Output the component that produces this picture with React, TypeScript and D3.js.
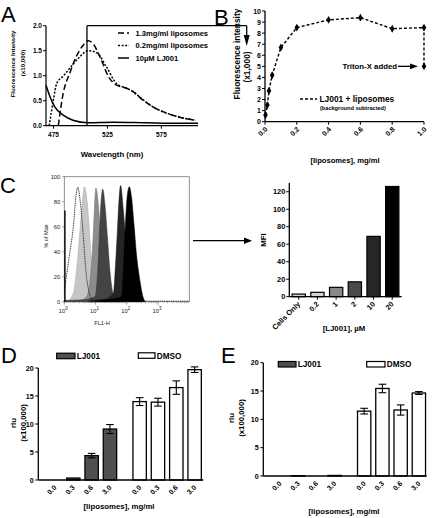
import React from 'react';
import * as d3 from 'd3';

// ---------- Panel A data (wavelength nm, fluorescence x10,000) ----------
const aWaveTicks = [475, 525, 575];
const aYTicks = [0, 0.5, 1.0, 1.5, 2.0];
const lipo13: [number, number][] = [
  [479.4, 0], [484, 0.65], [490, 1.05], [496, 1.38], [502.5, 1.61], [507, 1.7], [512, 1.63],
  [518, 1.38], [526, 0.98], [533.5, 0.81], [542.7, 0.75], [548.8, 0.68], [558, 0.51],
  [567, 0.38], [580, 0.25], [592, 0.17], [607, 0.11],
];
const lipo02: [number, number][] = [
  [471, 0], [474.8, 0.51], [478, 0.85], [484, 0.99], [490, 1.15], [499.5, 1.38], [507, 1.5],
  [515, 1.46], [524, 1.18], [533.5, 0.84], [542.7, 0.75], [548.8, 0.68], [558, 0.52],
  [567, 0.38], [580, 0.25], [592, 0.17], [607, 0.11],
];
const lj001Only: [number, number][] = [
  [468, 0.81], [471.7, 0.58], [476, 0.38], [484, 0.21], [493, 0.11], [507, 0.06],
  [530, 0.07], [560, 0.06], [590, 0.05], [609, 0.05],
];
const aMarkerWave = 506;
const aLegend = ['1.3mg/ml liposomes', '0.2mg/ml liposomes', '10\u00b5M LJ001'];

// ---------- Panel B data ----------
const bConc = [0.003, 0.015, 0.025, 0.045, 0.1, 0.2, 0.4, 0.6, 0.8, 1.0, 1.0];
const bFluor = [0.6, 1.5, 2.8, 4.2, 6.7, 8.5, 9.2, 9.4, 8.4, 8.5, 5.0];
const bXTicks = [0, 0.2, 0.4, 0.6, 0.8, 1.0];
const bYTicks = [0, 1, 2, 3, 4, 5, 6, 7, 8, 9, 10];

// ---------- Panel C histograms (log10 FL1-H, % of max) ----------
const hLightLog = [0, 0.13, 0.29, 0.39, 0.5, 0.58, 0.64, 0.74, 0.8, 0.86, 0.92, 0.98, 1.05, 1.2];
const hLightPct = [0, 1, 7, 25, 57, 81, 92, 78, 58, 35, 15, 5, 1, 0];
const hMidLog = [0, 0.5, 0.71, 0.82, 0.91, 0.96, 1.01, 1.09, 1.16, 1.24, 1.32, 1.41, 1.55];
const hMidPct = [0.5, 1, 4, 17, 46, 73, 91, 78, 52, 28, 10, 3, 0];
const hDarkLog = [0, 0.6, 0.98, 1.07, 1.12, 1.17, 1.23, 1.3, 1.38, 1.46, 1.55, 1.62, 1.75];
const hDarkPct = [1, 1.5, 4, 25, 52, 78, 90, 78, 52, 25, 7, 1, 0];
const hDarkerLog = [0.8, 1.3, 1.57, 1.64, 1.7, 1.75, 1.8, 1.89, 2.0, 2.1, 2.2, 2.3, 2.45];
const hDarkerPct = [1, 2, 7, 30, 57, 81, 93, 73, 38, 15, 5, 1, 0];
const hBlackLog = [1.0, 1.5, 1.83, 1.89, 1.96, 2.02, 2.08, 2.15, 2.23, 2.31, 2.42, 2.53, 2.6];
const hBlackPct = [1, 2, 4, 25, 65, 86, 92, 84, 62, 38, 17, 3, 0];
const hCellsLog = [0, 0.02, 0.1, 0.18, 0.29, 0.37, 0.43, 0.52, 0.61, 0.69, 0.8, 0.93, 1.1];
const hCellsPct = [8, 12, 26, 40, 60, 84, 91.5, 78, 52, 25, 7, 1, 0];
const hCellsEdgePct = 73;
const cHistYTicks = [0, 20, 40, 60, 80, 100];
const cDecades = [0, 1, 2, 3];

// ---------- Panel C bar chart ----------
const mfiLabels = ['Cells Only', '0.2', '1', '2', '10', '20'];
const mfiValues = [3, 5, 10.7, 17, 69, 126];
const mfiYTicks = [0, 20, 40, 60, 80, 100, 120];

// ---------- Panels D / E ----------
const groups = ['LJ001', 'DMSO'];
const concLabels = ['0.0', '0.3', '0.6', '3.0'];
const dLJ001 = [0, 0.35, 4.35, 9.1];
const dLJ001Err = [0, 0, 0.4, 0.8];
const dDMSO = [14.0, 13.9, 16.5, 19.7];
const dDMSOErr = [0.7, 0.7, 1.2, 0.5];
const eLJ001 = [0, 0.05, 0, 0.1];
const eLJ001Err = [0, 0, 0, 0];
const eDMSO = [11.45, 15.45, 11.65, 14.65];
const eDMSOErr = [0.5, 0.75, 0.9, 0.25];
const rluTicks = [0, 5, 10, 15, 20];

const FONT = '"Liberation Sans", Arial, Helvetica, sans-serif';

function Arrow({ x1, y1, x2, y2, head = 7, w = 3.2 }: any) {
  const ang = Math.atan2(y2 - y1, x2 - x1);
  const bx = x2 - head * Math.cos(ang);
  const by = y2 - head * Math.sin(ang);
  const px = -Math.sin(ang) * w;
  const py = Math.cos(ang) * w;
  return (
    <g>
      <line x1={x1} y1={y1} x2={bx} y2={by} stroke="#000" strokeWidth={1.3} />
      <path d={`M${x2},${y2}L${bx + px},${by + py}L${bx - px},${by - py}Z`} fill="#000" />
    </g>
  );
}

function PanelA() {
  const x = d3.scaleLinear().domain([468, 609]).range([46, 198]);
  const y = d3.scaleLinear().domain([0, 2]).range([125.7, 25.7]);
  const line = d3.line<[number, number]>().x(d => x(d[0])).y(d => y(d[1])).curve(d3.curveMonotoneX);
  const styles = [
    { dash: '6,3' },
    { dash: '2,1.6' },
    { dash: undefined },
  ];
  const series = [lipo13, lipo02, lj001Only];
  const legY = [33, 45.5, 58];
  const [x0, x1] = x.range();
  const [y0, y1] = y.range();
  return (
    <g fontFamily={FONT} fontWeight="bold">
      <text x={1} y={22} fontSize={22} fontWeight="normal">A</text>
      {series.map((s, i) => (
        <path key={i} d={line(s) || ''} fill="none" stroke="#000" strokeWidth={1.5} strokeDasharray={styles[i].dash} />
      ))}
      <line x1={x0} x2={x0} y1={y0} y2={y1} stroke="#000" strokeWidth={1.2} />
      <line x1={x0} x2={x1} y1={y0} y2={y0} stroke="#000" strokeWidth={1.2} />
      {aYTicks.map(t => (
        <g key={t}>
          <line x1={x0 - 3} x2={x0} y1={y(t)} y2={y(t)} stroke="#000" strokeWidth={1} />
          <text x={x0 - 4} y={y(t) + 2.2} fontSize={6.5} textAnchor="end">{t.toFixed(1)}</text>
        </g>
      ))}
      {aWaveTicks.map(t => (
        <g key={t}>
          <line x1={x(t)} x2={x(t)} y1={y0} y2={y0 + 3} stroke="#000" strokeWidth={1} />
          <text x={x(t)} y={y0 + 11} fontSize={6.5} textAnchor="middle">{t}</text>
        </g>
      ))}
      <text x={112} y={157} fontSize={7.8} textAnchor="middle">Wavelength (nm)</text>
      <text transform={`translate(15,64) rotate(-90)`} fontSize={6.2} textAnchor="middle">Fluorescence  Intensity</text>
      <text transform={`translate(24.5,63) rotate(-90)`} fontSize={6.2} textAnchor="middle">(x10,000)</text>
      {/* marker line */}
      <line x1={x(aMarkerWave)} x2={x(aMarkerWave)} y1={y0} y2={y(2)} stroke="#000" strokeWidth={1.3} />
      <line x1={x(aMarkerWave)} x2={246.7} y1={y(2)} y2={y(2)} stroke="#000" strokeWidth={1.3} />
      <Arrow x1={246.7} y1={y(2)} x2={246.7} y2={46} head={11} w={3} />
      {aLegend.map((l, i) => (
        <g key={l}>
          <line x1={118} x2={129} y1={legY[i]} y2={legY[i]} stroke="#000" strokeWidth={1.5} strokeDasharray={styles[i].dash} />
          <text x={135.5} y={legY[i] + 2.7} fontSize={7.6}>{l}</text>
        </g>
      ))}
    </g>
  );
}

function PanelB() {
  const x = d3.scaleLinear().domain([0, 1]).range([265, 424]);
  const y = d3.scaleLinear().domain([0, 10]).range([121.7, 11]);
  const pts = bConc.map((c, i) => [c, bFluor[i]] as [number, number]);
  const line = d3.line<[number, number]>().x(d => x(d[0])).y(d => y(d[1]));
  const diamond = d3.symbol().type(d3.symbolDiamond).size(18)() || '';
  const [x0, x1] = x.range();
  const [y0, y1] = y.range();
  return (
    <g fontFamily={FONT} fontWeight="bold">
      <text x={214} y={25} fontSize={22} fontWeight="normal">B</text>
      <path d={line(pts) || ''} fill="none" stroke="#000" strokeWidth={1.4} strokeDasharray="3,2" />
      {pts.map((p, i) => (
        <path key={i} d={diamond} transform={`translate(${x(p[0])},${y(p[1])})`} fill="#000" />
      ))}
      <line x1={x0} x2={x0} y1={y0} y2={y1} stroke="#000" strokeWidth={1.3} />
      <line x1={x0} x2={x1} y1={y0} y2={y0} stroke="#000" strokeWidth={1.3} />
      {bYTicks.map(t => (
        <g key={t}>
          <line x1={x0 - 3} x2={x0} y1={y(t)} y2={y(t)} stroke="#000" strokeWidth={1} />
          <text x={x0 - 4} y={y(t) + 2.5} fontSize={7} textAnchor="end">{t}</text>
        </g>
      ))}
      {bXTicks.map(t => (
        <g key={t}>
          <line x1={x(t)} x2={x(t)} y1={y0} y2={y0 + 3} stroke="#000" strokeWidth={1} />
          <text transform={`translate(${x(t) + 3},${y0 + 8}) rotate(-45)`} fontSize={7} textAnchor="end">{t.toFixed(1)}</text>
        </g>
      ))}
      <text x={345} y={163} fontSize={7.6} textAnchor="middle">[liposomes], mg/ml</text>
      <text transform={`translate(239.5,54) rotate(-90)`} fontSize={8.4} textAnchor="middle">Fluorescence intensity</text>
      <text transform={`translate(249.5,67) rotate(-90)`} fontSize={8.4} textAnchor="middle">(x1,000)</text>
      <text x={397} y={y(5) + 2.8} fontSize={7.8} textAnchor="end">Triton-X added</text>
      <Arrow x1={398} y1={y(5)} x2={418} y2={y(5)} head={8} w={2.8} />
      <line x1={300} x2={317} y1={99} y2={99} stroke="#000" strokeWidth={1.4} strokeDasharray="3,2" />
      <text x={319.5} y={102} fontSize={8.4}>LJ001 + liposomes</text>
      <text x={320} y={110} fontSize={5.6}>(background subtracted)</text>
    </g>
  );
}

function PanelCHist() {
  const x = d3.scaleLog().domain([1, 10000]).range([64.3, 189.3]);
  const y = d3.scaleLinear().domain([0, 100]).range([301.7, 176.7]);
  const area = d3.area<[number, number]>()
    .x(d => x(Math.pow(10, d[0]))).y0(y(0)).y1(d => y(d[1])).curve(d3.curveMonotoneX);
  const line = d3.line<[number, number]>()
    .x(d => x(Math.pow(10, d[0]))).y(d => y(d[1])).curve(d3.curveMonotoneX);
  const zip = (a: number[], b: number[]) => a.map((v, i) => [v, b[i]] as [number, number]);
  const filled = [
    { d: zip(hLightLog, hLightPct), fill: '#c6c6c6', stroke: '#aaa' },
    { d: zip(hMidLog, hMidPct), fill: '#8c8c8c', stroke: '#777' },
    { d: zip(hDarkLog, hDarkPct), fill: '#444', stroke: '#333' },
    { d: zip(hDarkerLog, hDarkerPct), fill: '#242424', stroke: '#111' },
    { d: zip(hBlackLog, hBlackPct), fill: '#000', stroke: '#000' },
  ];
  const [x0, x1] = x.range();
  const [y0, y1] = y.range();
  const minor: number[] = [];
  cDecades.forEach(dd => { for (let k = 2; k <= 9; k++) minor.push(k * Math.pow(10, dd)); });
  return (
    <g fontFamily={FONT}>
      <text x={0} y={193} fontSize={22}>C</text>
      <rect x={x0} y={y1} width={x1 - x0} height={y0 - y1} fill="#fff" stroke="#777" strokeWidth={0.8} />
      {filled.map((f, i) => (
        <path key={i} d={area(f.d) || ''} fill={f.fill} stroke={f.stroke} strokeWidth={0.5} />
      ))}
      <path d={line(zip(hCellsLog, hCellsPct)) || ''} fill="none" stroke="#222" strokeWidth={1} strokeDasharray="1,0.8" />
      <line x1={x(Math.pow(10, 2.55))} x2={x1} y1={y0 - 0.5} y2={y0 - 0.5} stroke="#222" strokeWidth={1} strokeDasharray="1,0.8" />
      <line x1={x0 + 0.6} x2={x0 + 0.6} y1={y0} y2={y(hCellsEdgePct)} stroke="#000" strokeWidth={1.4} />
      {cHistYTicks.map(t => (
        <g key={t}>
          <line x1={x0 - 2} x2={x0} y1={y(t)} y2={y(t)} stroke="#555" strokeWidth={0.6} />
          <text x={x0 - 4} y={y(t) + 2} fontSize={5.8} textAnchor="end" fill="#222">{t}</text>
        </g>
      ))}
      {minor.map(t => (
        <line key={t} x1={x(t)} x2={x(t)} y1={y0} y2={y0 + 1.5} stroke="#555" strokeWidth={0.5} />
      ))}
      {cDecades.map(dd => (
        <g key={dd}>
          <line x1={x(Math.pow(10, dd))} x2={x(Math.pow(10, dd))} y1={y0} y2={y0 + 3} stroke="#555" strokeWidth={0.6} />
          <text x={x(Math.pow(10, dd)) - 1} y={y0 + 11} fontSize={5.8} textAnchor="middle" fill="#222">
            10<tspan fontSize={4.5} dy={-3}>{dd}</tspan>
          </text>
        </g>
      ))}
      <text x={102} y={325} fontSize={5.6} textAnchor="middle" fill="#222">FL1-H</text>
      <text transform={`translate(47.5,236) rotate(-90)`} fontSize={5.6} textAnchor="middle" fill="#222">% of Max</text>
      <Arrow x1={193} y1={240.7} x2={252} y2={240.7} head={8} w={3.3} />
    </g>
  );
}

function PanelCBar() {
  const x = d3.scaleBand().domain(mfiLabels).range([289.3, 401.7]).paddingInner(0.29).paddingOuter(0.15);
  const y = d3.scaleLinear().domain([0, 130]).range([296.7, 183]);
  const colors = ['#d2d2d2', '#d2d2d2', '#8a8a8a', '#4a4a4a', '#262626', '#000'];
  const [y0, y1] = y.range();
  const [x0, x1] = x.range();
  return (
    <g fontFamily={FONT} fontWeight="bold">
      {mfiLabels.map((l, i) => (
        <rect key={l} x={x(l)} y={y(mfiValues[i])} width={x.bandwidth()} height={y0 - y(mfiValues[i])}
          fill={colors[i]} stroke="#000" strokeWidth={1.2} />
      ))}
      <line x1={x0} x2={x0} y1={y0} y2={y1} stroke="#000" strokeWidth={1.3} />
      <line x1={x0} x2={x1} y1={y0} y2={y0} stroke="#000" strokeWidth={1.3} />
      {mfiYTicks.map(t => (
        <g key={t}>
          <line x1={x0 - 3} x2={x0} y1={y(t)} y2={y(t)} stroke="#000" strokeWidth={1} />
          <text x={x0 - 4} y={y(t) + 2.5} fontSize={7.4} textAnchor="end">{t}</text>
        </g>
      ))}
      {mfiLabels.map(l => {
        const cx = (x(l) || 0) + x.bandwidth() / 2;
        return (
          <g key={l}>
            <line x1={cx} x2={cx} y1={y0} y2={y0 + 3} stroke="#000" strokeWidth={1} />
            <text transform={`translate(${cx + 2},${y0 + 8}) rotate(-45)`} fontSize={7.4} textAnchor="end">{l}</text>
          </g>
        );
      })}
      <text x={344} y={331} fontSize={7.8} textAnchor="middle">[LJ001], {'\u00b5'}M</text>
      <text transform={`translate(265.5,240) rotate(-90)`} fontSize={7.8} textAnchor="middle">MFI</text>
    </g>
  );
}

function LumPanel({ letter, letterX, axisX0, axisX1, yBottom, yTop, groupRange, lj, ljErr, dm, dmErr, legend, labelX, yLabelX, yLabelY, xLabelY }: any) {
  const outer = d3.scaleBand().domain(groups).range(groupRange).paddingInner(0.134).paddingOuter(0);
  const inner = d3.scaleBand().domain(concLabels).range([0, outer.bandwidth()]).paddingInner(0.27).paddingOuter(0.135);
  const y = d3.scaleLinear().domain([0, 20]).range([yBottom, yTop]);
  const data = [
    { g: 'LJ001', v: lj, e: ljErr, fill: '#505050' },
    { g: 'DMSO', v: dm, e: dmErr, fill: '#fff' },
  ];
  const bw = inner.bandwidth();
  return (
    <g fontFamily={FONT} fontWeight="bold">
      <text x={letterX} y={363} fontSize={22} fontWeight="normal">{letter}</text>
      {data.map(s => concLabels.map((c, i) => {
        const bx = (outer(s.g) || 0) + (inner(c) || 0);
        const v = s.v[i];
        const e = s.e[i];
        const cx = bx + bw / 2;
        return (
          <g key={s.g + c}>
            {v > 0 && (
              <rect x={bx} y={y(v)} width={bw} height={yBottom - y(v)} fill={s.fill} stroke="#000" strokeWidth={1.3} />
            )}
            {e > 0 && (
              <g stroke="#000" strokeWidth={1.1}>
                <line x1={cx} x2={cx} y1={y(v + e)} y2={y(v - e)} />
                <line x1={cx - 3.8} x2={cx + 3.8} y1={y(v + e)} y2={y(v + e)} />
                <line x1={cx - 3.8} x2={cx + 3.8} y1={y(v - e)} y2={y(v - e)} />
              </g>
            )}
            <text transform={`translate(${cx + 2},${yBottom + 8}) rotate(-45)`} fontSize={7} textAnchor="end">{c}</text>
          </g>
        );
      }))}
      <line x1={axisX0} x2={axisX0} y1={yBottom} y2={yTop} stroke="#000" strokeWidth={1.3} />
      <line x1={axisX0} x2={axisX1} y1={yBottom} y2={yBottom} stroke="#000" strokeWidth={1.3} />
      {rluTicks.map(t => (
        <g key={t}>
          <line x1={axisX0 - 3} x2={axisX0} y1={y(t)} y2={y(t)} stroke="#000" strokeWidth={1} />
          <text x={axisX0 - 4.5} y={y(t) + 2.5} fontSize={7.2} textAnchor="end">{t}</text>
        </g>
      ))}
      {legend.map((l: any, i: number) => (
        <g key={i}>
          <rect x={l.x} y={l.y} width={l.w} height={5.5} fill={data[i].fill} stroke="#000" strokeWidth={1.2} />
          <text x={l.x + l.w + 1.8} y={l.y + 5.8} fontSize={8.2}>{groups[i]}</text>
        </g>
      ))}
      <text x={labelX} y={xLabelY} fontSize={7.8} textAnchor="middle">[liposomes], mg/ml</text>
      <text transform={`translate(${yLabelX},${yLabelY}) rotate(-90)`} fontSize={7.8} textAnchor="middle">rlu</text>
      <text transform={`translate(${yLabelX + 10},${yLabelY}) rotate(-90)`} fontSize={7.8} textAnchor="middle">(x100,000)</text>
    </g>
  );
}

export default function App() {
  return (
    <svg width={436} height={518} viewBox="0 0 436 518"
      style={{ position: 'absolute', left: 0, top: 0, background: '#fff' }}>
      <rect width={436} height={518} fill="#fff" />
      <PanelA />
      <PanelB />
      <PanelCHist />
      <PanelCBar />
      <LumPanel letter="D" letterX={1} axisX0={38.3} axisX1={203.3} yBottom={480} yTop={368}
        groupRange={[45.8, 203.8]} lj={dLJ001} ljErr={dLJ001Err} dm={dDMSO} dmErr={dDMSOErr}
        legend={[{ x: 56.7, y: 353.2, w: 18.3 }, { x: 138.3, y: 352.8, w: 16.7 }]}
        labelX={119} yLabelX={16} yLabelY={423} xLabelY={509} />
      <LumPanel letter="E" letterX={221} axisX0={263.3} axisX1={426.7} yBottom={476} yTop={362.7}
        groupRange={[270.8, 428]} lj={eLJ001} ljErr={eLJ001Err} dm={eDMSO} dmErr={eDMSOErr}
        legend={[{ x: 278.3, y: 361.5, w: 17.7 }, { x: 366.7, y: 361.5, w: 18.3 }]}
        labelX={344} yLabelX={234} yLabelY={418} xLabelY={514} />
    </svg>
  );
}
